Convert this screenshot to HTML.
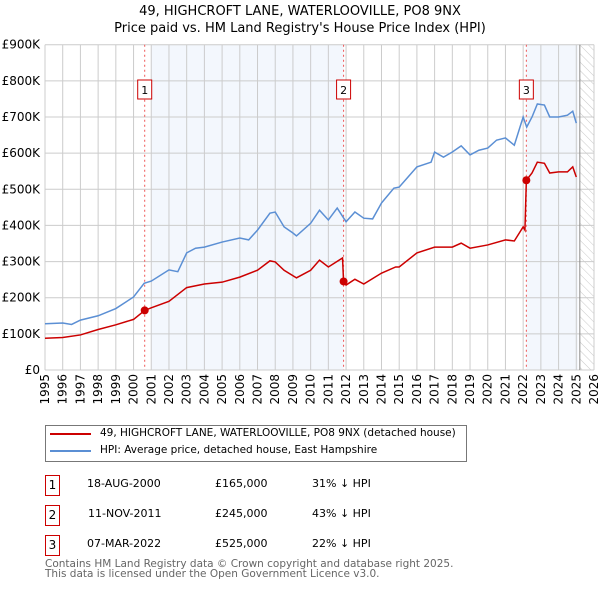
<!DOCTYPE html>
<html><head><meta charset="utf-8"><style>
body{margin:0;background:#fff;font-family:"DejaVu Sans","Liberation Sans",sans-serif;}
#wrap{position:relative;width:600px;height:590px;overflow:hidden}
.t{position:absolute;font-size:12px;color:#000;white-space:nowrap}
.box{position:absolute;border:1px solid #c00;width:13px;height:19px;font-size:12px;text-align:center;line-height:19px}
</style></head><body><div id="wrap">
<div class="t" style="left:0;width:600px;text-align:center;top:4px;font-size:13px">49, HIGHCROFT LANE, WATERLOOVILLE, PO8 9NX</div>
<div class="t" style="left:0;width:600px;text-align:center;top:21px;font-size:13px">Price paid vs. HM Land Registry's House Price Index (HPI)</div>
<svg id="chart" width="600" height="420" style="position:absolute;left:0;top:0"></svg>
<div style="position:absolute;left:45px;top:425px;width:420px;height:35px;border:1px solid #777"></div>
<div style="position:absolute;left:50px;top:433px;width:41px;height:2px;background:#c00"></div>
<div class="t" style="left:100px;top:427px;font-size:10.5px">49, HIGHCROFT LANE, WATERLOOVILLE, PO8 9NX (detached house)</div>
<div style="position:absolute;left:50px;top:450px;width:41px;height:2px;background:#5b8fd4"></div>
<div class="t" style="left:100px;top:444px;font-size:10.5px">HPI: Average price, detached house, East Hampshire</div>
<div class="box" style="left:45px;top:475px">1</div>
<div class="t" style="left:87px;top:477px;font-size:11px">18-AUG-2000</div>
<div class="t" style="left:215px;top:477px;font-size:11px">£165,000</div>
<div class="t" style="left:312px;top:477px;font-size:11px">31% ↓ HPI</div>
<div class="box" style="left:45px;top:505px">2</div>
<div class="t" style="left:88px;top:507px;font-size:11px">11-NOV-2011</div>
<div class="t" style="left:215px;top:507px;font-size:11px">£245,000</div>
<div class="t" style="left:312px;top:507px;font-size:11px">43% ↓ HPI</div>
<div class="box" style="left:45px;top:535px">3</div>
<div class="t" style="left:87px;top:537px;font-size:11px">07-MAR-2022</div>
<div class="t" style="left:215px;top:537px;font-size:11px">£525,000</div>
<div class="t" style="left:312px;top:537px;font-size:11px">22% ↓ HPI</div>
<div class="t" style="left:45px;top:559px;font-size:10.5px;color:#666;line-height:10px">Contains HM Land Registry data © Crown copyright and database right 2025.<br>This data is licensed under the Open Government Licence v3.0.</div>
</div>
<script>
const yTicks=[0,100,200,300,400,500,600,700,800,900];
const yLabels=["£0","£100K","£200K","£300K","£400K","£500K","£600K","£700K","£800K","£900K"];
const years=[1995,1996,1997,1998,1999,2000,2001,2002,2003,2004,2005,2006,2007,2008,2009,2010,2011,2012,2013,2014,2015,2016,2017,2018,2019,2020,2021,2022,2023,2024,2025,2026];
const hpiT=[1995,1996,1996.5,1997,1998,1999,2000,2000.6,2001,2002,2002.5,2003,2003.5,2004,2005,2006,2006.5,2007,2007.7,2008,2008.5,2009,2009.2,2010,2010.5,2011,2011.5,2012,2012.5,2013,2013.5,2014,2014.7,2015,2015.5,2016,2016.8,2017,2017.5,2018,2018.5,2019,2019.5,2020,2020.5,2021,2021.5,2022,2022.2,2022.5,2022.8,2023.2,2023.5,2024,2024.5,2024.8,2025];
const hpiV=[128,130,126,138,150,170,202,240,246,277,272,324,337,340,354,365,360,387,434,437,396,379,371,406,442,415,448,410,437,420,418,462,503,506,534,562,575,603,589,603,620,595,608,614,636,642,622,700,672,700,736,733,700,700,705,716,683];
const priceT=[1995,1996,1997,1998,1999,2000,2000.63,2001,2002,2003,2004,2005,2006,2007,2007.7,2008,2008.5,2009.2,2010,2010.5,2011,2011.8,2011.86,2012,2012.5,2013,2014,2014.8,2015,2016,2017,2018,2018.5,2019,2020,2021,2021.5,2022,2022.1,2022.18,2022.5,2022.8,2023.2,2023.5,2024,2024.5,2024.8,2025];
const priceV=[88,90,97,112,125,140,165,172,190,228,238,243,257,276,302,299,276,255,276,304,285,310,245,235,251,238,268,285,285,324,340,340,351,337,346,360,357,396,387,525,545,575,572,545,548,548,562,534];
const saleT=[2000.63,2011.86,2022.18];
const saleV=[165,245,525];
const saleN=["1","2","3"];
const X0=45,X1=594,Y0=370,Y1=44.7;
const x=t=>X0+(t-1995)/(2026-1995)*(X1-X0);
const y=v=>Y0-v/900*(Y0-Y1);
const svg=document.getElementById('chart');const NS='http://www.w3.org/2000/svg';
function mk(tag,at,parent){const e=document.createElementNS(NS,tag);for(const k in at)e.setAttribute(k,at[k]);(parent||svg).appendChild(e);return e;}
let e;
e=mk('defs',{});e.innerHTML='<pattern id="hatch" width="6" height="6" patternUnits="userSpaceOnUse" patternTransform="rotate(-45)"><line x1="0" y1="0" x2="0" y2="6" stroke="#bbb" stroke-width="0.8"/></pattern>';
e=mk('rect',{x:x(2001),y:Y1,width:x(saleT[1])-x(2001),height:Y0-Y1,fill:'#f3f7fd'});


e=mk('rect',{x:x(saleT[2]),y:Y1,width:x(2025.1)-x(saleT[2]),height:Y0-Y1,fill:'#f3f7fd'});


e=mk('rect',{x:x(2025.2),y:Y1,width:X1-x(2025.2),height:Y0-Y1,fill:'url(#hatch)'});


yTicks.forEach((v,i)=>{
 e=mk('line',{x1:X0,x2:X1,y1:y(v),y2:y(v),stroke:'#ccc','stroke-width':1});
 
 
 e=mk('text',{x:40,y:y(v)+4,'text-anchor':'end','font-size':12,'font-family':'DejaVu Sans, Liberation Sans, sans-serif'});e.textContent=yLabels[i];
 
 
});
years.forEach(t=>{
 e=mk('line',{x1:x(t),x2:x(t),y1:Y1,y2:Y0,stroke:'#ccc','stroke-width':1});
 
 
 e=mk('text',{x:0,y:0,transform:`translate(${x(t)+4},${Y0+4}) rotate(-90)`,'text-anchor':'end','font-size':12,'font-family':'DejaVu Sans, Liberation Sans, sans-serif'});e.textContent=t;
 
 
});
e=mk('line',{x1:x(2025.2),x2:x(2025.2),y1:Y1,y2:Y0,stroke:'#888','stroke-width':1});


saleT.forEach((t,i)=>{
 e=mk('line',{x1:x(t),x2:x(t),y1:Y1,y2:Y0,stroke:'#e55','stroke-width':1,'stroke-dasharray':'2,3'});
 
 
 e=mk('rect',{x:x(t)-7,y:80,width:14,height:19,fill:'#fff',stroke:'#c00'});
 
 
 e=mk('text',{x:x(t),y:94,'text-anchor':'middle','font-size':11,'font-family':'DejaVu Sans, sans-serif'});e.textContent=saleN[i];
 
 
});
e=mk('polyline',{points:hpiT.map((t,i)=>x(t)+','+y(hpiV[i])).join(' '),fill:'none',stroke:'#5b8fd4','stroke-width':1.5});


e=mk('polyline',{points:priceT.map((t,i)=>x(t)+','+y(priceV[i])).join(' '),fill:'none',stroke:'#c00','stroke-width':1.5});


saleT.forEach((t,i)=>{
 e=mk('circle',{cx:x(t),cy:y(saleV[i]),r:4,fill:'#c00'});
 
 
});
</script></body></html>
